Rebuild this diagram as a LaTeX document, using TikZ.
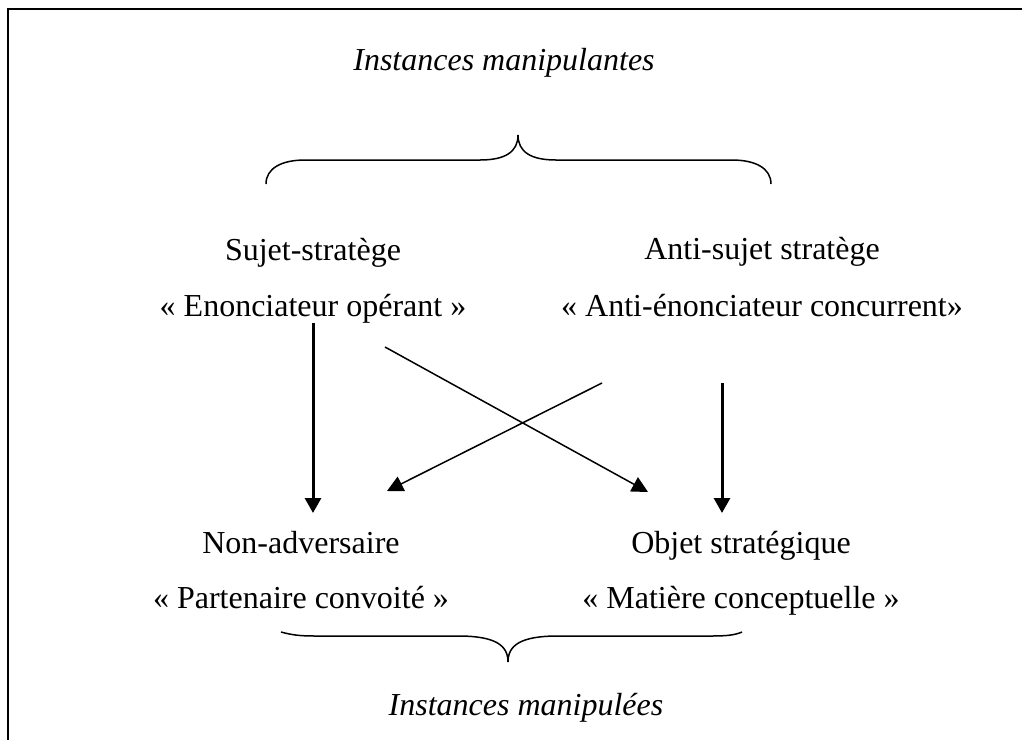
\documentclass[tikz,border=0pt]{standalone}
\usepackage{fontspec}
\setmainfont{Liberation Serif}
\usetikzlibrary{arrows.meta, calc}
\tikzset{
  % text label style
  lbl/.style={
    anchor=base
    , inner sep=0pt
    , font=\fontsize{16pt}{19pt}\selectfont
  },
  % italic heading style
  head/.style={
    lbl
    , font=\fontsize{16pt}{19pt}\selectfont\itshape
  },
  % thick vertical arrow
  varr/.style={
    line width=1.5pt
    , -{Triangle[length=7.5pt,width=8pt]}
  },
  % thin crossing arrow
  darr/.style={
    line width=0.75pt
    , -{Triangle[length=8pt,width=8pt]}
  },
  % curly brace line
  brc/.style={
    line width=0.75pt
  },
}
\begin{document}
\begin{tikzpicture}[x=0.5pt, y=-0.5pt]
      \useasboundingbox (0,0) rectangle (1022,740);
      \draw[line width=1pt] (8,740) -- (8,9) -- (1022,9);

      \node[head] (manip) at (504,70) {Instances manipulantes};
      \node[lbl] (suj) at (313,260) {Sujet-stratège};
      \node[lbl] (enon) at (313,316) {« Enonciateur opérant »};
      \node[lbl] (anti) at (762,259) {Anti-sujet stratège};
      \node[lbl] (conc) at (762,316) {« Anti-énonciateur concurrent»};
      \node[lbl] (nonadv) at (301,553) {Non-adversaire};
      \node[lbl] (part) at (301,608) {« Partenaire convoité »};
      \node[lbl] (obj) at (741,553) {Objet stratégique};
      \node[lbl] (mat) at (741,608) {« Matière conceptuelle »};
      \node[head] (manipd) at (526,715) {Instances manipulées};

      \coordinate (lt) at (313,513);
      \coordinate (rs) at (722,383);
      \coordinate (rt) at (722,513);
      \coordinate (ds) at (385,347);
      \coordinate (dt) at (648,492);
      \coordinate (as) at (602,383);
      \coordinate (at) at (387,491);

      \draw[varr] (enon.south) -- (lt);
      \draw[varr] (rs) -- (rt);
      \draw[darr] (ds) -- (dt);
      \draw[darr] (as) -- (at);

      % upper brace
      \draw[brc] (266,184) .. controls (266,168) and (282,160) .. (305,160)
        -- (480,160) .. controls (505,160) and (518,152) .. (518,135)
        .. controls (518,152) and (531,160) .. (556,160)
        -- (732,160) .. controls (755,160) and (771,168) .. (771,184);
      % lower brace
      \draw[brc] (281,632) .. controls (292,635) and (300,636) .. (315,636)
        -- (458,636) .. controls (495,636) and (508,645) .. (508,662)
        .. controls (508,645) and (521,636) .. (558,636)
        -- (712,636) .. controls (727,636) and (735,635) .. (742,632);
    \end{tikzpicture}
\end{document}
